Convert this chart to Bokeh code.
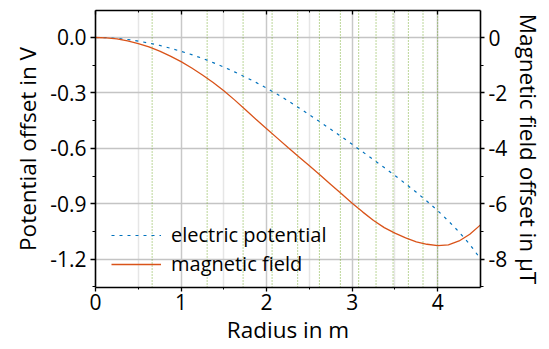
from bokeh.plotting import figure
from bokeh.models import Range1d, LinearAxis, FixedTicker, Legend, LegendItem
from bokeh.embed import file_html
from bokeh.resources import INLINE

# ---- data ----
radius = [0.0, 0.125, 0.25, 0.375, 0.5, 0.625, 0.75, 0.875, 1.0, 1.125,
          1.25, 1.375, 1.5, 1.625, 1.75, 1.875, 2.0, 2.125, 2.25, 2.375,
          2.5, 2.625, 2.75, 2.875, 3.0, 3.125, 3.25, 3.375, 3.5, 3.625,
          3.75, 3.875, 4.0, 4.125, 4.25, 4.375, 4.5]
potential_V = [0.0, -0.001, -0.005, -0.011, -0.02, -0.03, -0.043, -0.058,
               -0.075, -0.093, -0.113, -0.136, -0.16, -0.186, -0.214,
               -0.243, -0.274, -0.307, -0.343, -0.38, -0.418, -0.457,
               -0.497, -0.537, -0.578, -0.62, -0.662, -0.704, -0.747,
               -0.792, -0.838, -0.886, -0.937, -0.993, -1.053, -1.12, -1.198]
field_uT = [0.0, -0.01, -0.05, -0.12, -0.22, -0.34, -0.49, -0.67, -0.87,
            -1.1, -1.35, -1.62, -1.92, -2.25, -2.6, -2.95, -3.29, -3.63,
            -3.97, -4.3, -4.63, -4.96, -5.3, -5.64, -5.98, -6.3, -6.6,
            -6.86, -7.06, -7.23, -7.37, -7.46, -7.51, -7.48, -7.34, -7.1,
            -6.76]
ring_radii = [0.662, 1.305, 1.725, 2.064, 2.363, 2.617, 2.862, 3.076,
              3.279, 3.478, 3.657, 3.828, 3.999]

x_ticks = [0, 1, 2, 3, 4]
x_minor = [0.5, 1.5, 2.5, 3.5]
x_tick_labels = ["0", "1", "2", "3", "4"]
v_ticks = [-1.2, -0.9, -0.6, -0.3, 0.0]
v_minor = [-1.35, -1.05, -0.75, -0.45, -0.15, 0.15]
v_tick_labels = ["-1.2", "-0.9", "-0.6", "-0.3", "0.0"]
b_ticks = [-8, -6, -4, -2, 0]
b_minor = [-9, -7, -5, -3, -1]
b_tick_labels = ["-8", "-6", "-4", "-2", "0"]

x_lim = (0.0, 4.5)
v_lim = (-1.353, 0.146)
b_lim = (-9.02, 0.975)

FONT = "Open Sans"
TICK_FS = "21px"
LABEL_FS = "22.5px"
BLUE = "#0072BD"
RED = "#D95319"
GREEN = "#77AC30"

p = figure(width=549, height=349, output_backend="svg", toolbar_location=None,
           x_range=Range1d(*x_lim), y_range=Range1d(*v_lim),
           min_border_left=95, min_border_right=69, min_border_top=10,
           min_border_bottom=62, outline_line_color=None)
p.extra_y_ranges = {"B": Range1d(*b_lim)}

# grids
p.xgrid.ticker = FixedTicker(ticks=x_ticks, minor_ticks=x_minor)
p.xgrid.grid_line_color = "#c8c8c8"
p.xgrid.grid_line_width = 1.5
p.xgrid.minor_grid_line_color = "#e6e6e6"
p.xgrid.minor_grid_line_width = 1.5
p.ygrid.ticker = FixedTicker(ticks=v_ticks)
p.ygrid.grid_line_color = "#c4c4c4"
p.ygrid.grid_line_width = 1.5


def style_axis(ax):
    ax.axis_line_color = "black"
    ax.axis_line_width = 1.6
    ax.major_tick_line_color = "black"
    ax.minor_tick_line_color = "black"
    ax.major_tick_line_width = 1.3
    ax.minor_tick_line_width = 1.0
    ax.major_label_text_font = FONT
    ax.major_label_text_font_size = TICK_FS
    ax.major_label_text_color = "black"
    ax.axis_label_text_font = FONT
    ax.axis_label_text_font_size = LABEL_FS
    ax.axis_label_text_font_style = "normal"
    ax.axis_label_text_color = "black"


# bottom axis
xa = p.xaxis[0]
xa.ticker = FixedTicker(ticks=x_ticks, minor_ticks=x_minor)
xa.major_label_overrides = dict(zip(x_ticks, x_tick_labels))
xa.axis_label = "Radius in m"
style_axis(xa)
xa.major_tick_out = 4
xa.major_tick_in = 0
xa.minor_tick_out = 2
xa.minor_tick_in = 0
xa.major_label_standoff = 2
xa.axis_label_standoff = 1

# left axis
ya = p.yaxis[0]
ya.ticker = FixedTicker(ticks=v_ticks, minor_ticks=v_minor)
ya.major_label_overrides = dict(zip(v_ticks, v_tick_labels))
ya.axis_label = "Potential offset in V"
style_axis(ya)
ya.major_tick_out = 5
ya.major_tick_in = 0
ya.minor_tick_out = 3
ya.minor_tick_in = 0
ya.major_label_standoff = 4
ya.axis_label_standoff = 4

# right axis
yb = LinearAxis(y_range_name="B",
                ticker=FixedTicker(ticks=b_ticks, minor_ticks=b_minor),
                axis_label="Magnetic field offset in \u00b5T")
yb.major_label_overrides = dict(zip(b_ticks, b_tick_labels))
style_axis(yb)
yb.major_tick_out = 4
yb.major_tick_in = 0
yb.minor_tick_out = 3
yb.minor_tick_in = 0
yb.major_label_standoff = 4
yb.axis_label_standoff = 3
p.add_layout(yb, "right")

# top axis (ticks only)
xt = LinearAxis(ticker=FixedTicker(ticks=x_ticks, minor_ticks=x_minor))
style_axis(xt)
xt.major_label_text_font_size = "0px"
xt.major_label_text_color = None
xt.major_tick_in = 4
xt.major_tick_out = 0
xt.minor_tick_in = 2
xt.minor_tick_out = 0
xt.major_label_standoff = 0
p.add_layout(xt, "above")

# green dotted ring lines
p.segment(x0=ring_radii, x1=ring_radii,
          y0=[v_lim[0]] * len(ring_radii), y1=[v_lim[1]] * len(ring_radii),
          line_color=GREEN, line_width=1, line_dash="1 2")

# curves
r_e = p.line(radius, potential_V, line_color=BLUE, line_width=1.2,
             line_dash="3 5")
r_b = p.line(radius, field_uT, y_range_name="B", line_color=RED,
             line_width=1.3)

legend = Legend(items=[LegendItem(label="electric potential", renderers=[r_e]),
                       LegendItem(label="magnetic field", renderers=[r_b])],
                location=(6, 0), background_fill_alpha=0,
                border_line_alpha=0, label_text_font=FONT,
                label_text_font_size="20px", label_text_color="black",
                glyph_width=50, glyph_height=26,
                label_height=26, spacing=2, padding=10, margin=0,
                label_standoff=10)
p.add_layout(legend)

open("out.html", "w").write(file_html(p, INLINE))
